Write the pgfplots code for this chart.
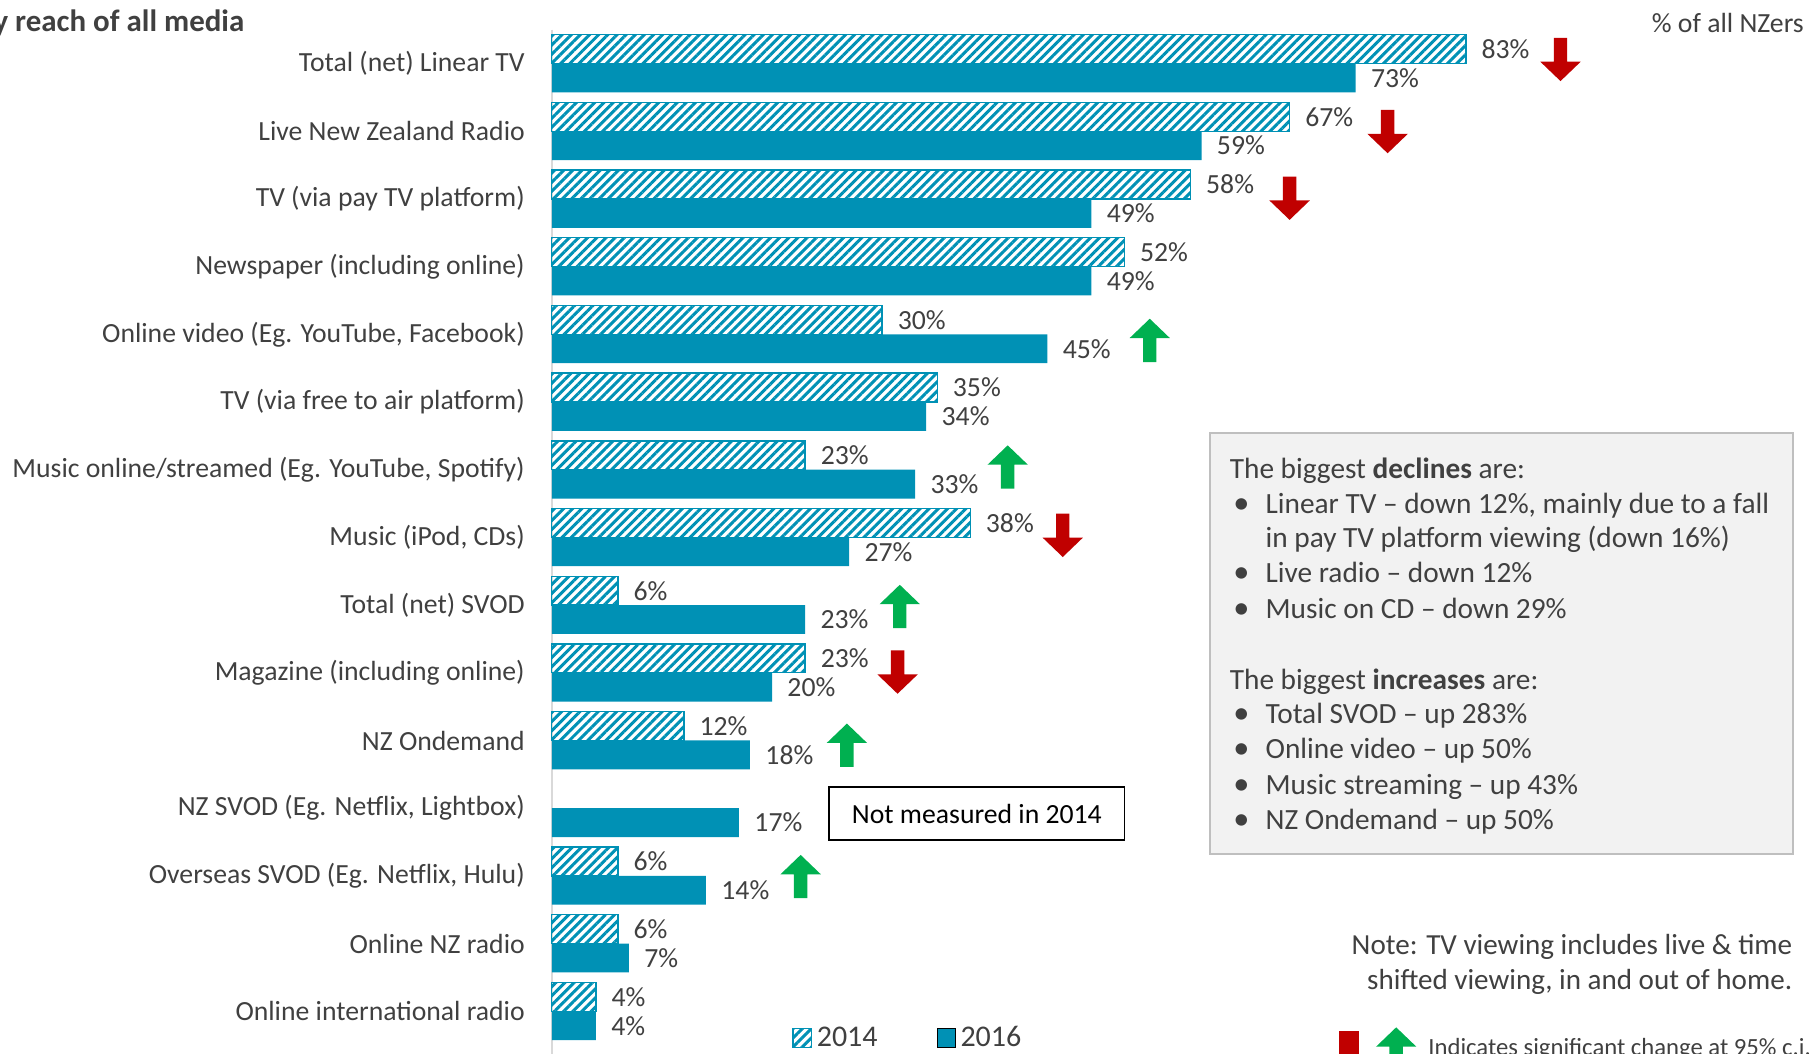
\documentclass[border=0pt]{standalone}
\usepackage{fontspec}
\setmainfont{Carlito}
\usepackage{pgfplots}
\pgfplotsset{compat=1.18}
\usetikzlibrary{patterns.meta}
\definecolor{barblue}{RGB}{0,145,181}
\definecolor{txt}{RGB}{64,64,64}
\definecolor{arrred}{RGB}{192,0,0}
\definecolor{arrgreen}{RGB}{0,176,80}
\definecolor{boxfill}{RGB}{242,242,242}
\definecolor{boxdraw}{RGB}{191,191,191}
\definecolor{axgray}{RGB}{217,217,217}

\pgfdeclareplotmark{downarr}{%
  \pgfpathmoveto{\pgfpoint{-2.9pt}{9.375pt}}%
  \pgfpathlineto{\pgfpoint{2.9pt}{9.375pt}}%
  \pgfpathlineto{\pgfpoint{2.9pt}{-0.975pt}}%
  \pgfpathlineto{\pgfpoint{8.75pt}{-0.975pt}}%
  \pgfpathlineto{\pgfpoint{0pt}{-9.375pt}}%
  \pgfpathlineto{\pgfpoint{-8.75pt}{-0.975pt}}%
  \pgfpathlineto{\pgfpoint{-2.9pt}{-0.975pt}}%
  \pgfpathclose
  \pgfusepathqfill}
\pgfdeclareplotmark{uparr}{%
  \pgfpathmoveto{\pgfpoint{-2.9pt}{-9.375pt}}%
  \pgfpathlineto{\pgfpoint{2.9pt}{-9.375pt}}%
  \pgfpathlineto{\pgfpoint{2.9pt}{0.975pt}}%
  \pgfpathlineto{\pgfpoint{8.75pt}{0.975pt}}%
  \pgfpathlineto{\pgfpoint{0pt}{9.375pt}}%
  \pgfpathlineto{\pgfpoint{-8.75pt}{0.975pt}}%
  \pgfpathlineto{\pgfpoint{-2.9pt}{0.975pt}}%
  \pgfpathclose
  \pgfusepathqfill}

\newcommand{\fs}[1]{\fontsize{#1}{1.2\dimexpr #1pt\relax}\selectfont}

\begin{document}
\begin{tikzpicture}
\useasboundingbox (0,0) rectangle (784pt,456.5pt);
\clip (0,0) rectangle (784pt,456.5pt);
\begin{axis}[
  at={(239pt,3.8pt)}, anchor=south west,
  scale only axis, width=477pt, height=439.85pt,
  xmin=0, xmax=100, ymin=-0.5, ymax=14.5, y dir=reverse,
  axis x line=none, axis y line*=left,
  y axis line style={draw=axgray, line width=0.8pt},
  ytick={0,...,14},
  yticklabels={Total (net) Linear TV, Live New Zealand Radio, TV (via pay TV platform),
    Newspaper (including online), {Online video (Eg. YouTube, Facebook)},
    TV (via free to air platform), {Music online/streamed (Eg. YouTube, Spotify)},
    {Music (iPod, CDs)}, Total (net) SVOD, Magazine (including online), NZ Ondemand,
    {NZ SVOD (Eg. Netflix, Lightbox)}, {Overseas SVOD (Eg. Netflix, Hulu)},
    Online NZ radio, Online international radio},
  major tick length=0pt,
  yticklabel style={font=\fs{12}, text=txt, inner sep=0pt, anchor=east, xshift=-11.5pt},
  clip=false,
  /pgf/number format/assume math mode=true,
  legend columns=2,
  legend style={at={(0.218,0.007)}, anchor=west, draw=none, fill=none,
    font=\fs{13}, text=txt, inner sep=0pt,
    /tikz/every even column/.append style={column sep=23.5pt},
    cells={anchor=west}},
  legend image code/.code={\draw[#1] (0pt,-4pt) rectangle (8pt,4pt);},
]
\addplot[xbar, bar width=12.5pt, bar shift=0pt, draw=barblue, line width=0.6pt,
  pattern={Lines[angle=45,distance=2.8pt,line width=1.3pt]}, pattern color=barblue,
  point meta=x, nodes near coords={\pgfmathprintnumber{\pgfplotspointmeta}\%},
  every node near coord/.append style={font=\fs{12}, text=txt, inner sep=0pt, anchor=west, xshift=6.5pt}]
coordinates {
 (83,-0.213) (67,0.787) (58,1.787) (52,2.787) (30,3.787) (35,4.787) (23,5.787)
 (38,6.787) (6,7.787) (23,8.787) (12,9.787) (6,11.787) (6,12.787) (4,13.787)
};
\addlegendentry{2014}
\addplot[xbar, bar width=12.5pt, bar shift=0pt, draw=none, fill=barblue,
  point meta=x, nodes near coords={\pgfmathprintnumber{\pgfplotspointmeta}\%},
  every node near coord/.append style={font=\fs{12}, text=txt, inner sep=0pt, anchor=west, xshift=6.5pt}]
coordinates {
 (73,0.213) (59,1.213) (49,2.213) (49,3.213) (45,4.213) (34,5.213) (33,6.213)
 (27,7.213) (23,8.213) (20,9.213) (18,10.213) (17,11.213) (14,12.213) (7,13.213) (4,14.213)
};
\addlegendentry{2016}
\addplot[forget plot, only marks, mark=downarr, color=arrred, mark options={fill=arrred}]
coordinates {(91.6,-0.06) (75.9,1.006) (67.0,1.99) (46.4,6.97) (31.4,8.99)};
\addplot[forget plot, only marks, mark=uparr, color=arrgreen, mark options={fill=arrgreen}]
coordinates {(54.3,4.09) (41.4,5.96) (31.6,8.02) (26.8,10.07) (22.6,12.01)};
\draw[axgray, line width=0.8pt] (axis cs:0,14.5) -- (axis cs:0,15);
\node[draw=black, line width=0.6pt, fill=white, minimum width=128pt, minimum height=23pt,
  inner sep=0pt, font=\fs{12}, text=black] at (axis cs:38.6,11.08) {Not measured in 2014};
\end{axis}

% title and unit note
\node[anchor=east, inner sep=0pt, font=\bfseries\fs{13.4}, text=txt] at (106pt,446.5pt) {Monthly reach of all media};
\node[anchor=east, inner sep=0pt, font=\fs{12}, text=txt] at (781.5pt,446.5pt) {\% of all NZers};

% summary box
\draw[fill=boxfill, draw=boxdraw, line width=1pt] (524pt,86.5pt) rectangle (776.5pt,269pt);
\begin{scope}[every node/.style={inner sep=0pt, anchor=base west, font=\fs{12.7}, text=txt}]
\node at (532.5pt,249.25pt) {The biggest \textbf{declines} are:};
\node at (534pt,234.25pt) {\fs{14}•}; \node at (548pt,234.25pt) {Linear TV – down 12\%, mainly due to a fall};
\node at (548pt,219.15pt) {in pay TV platform viewing (down 16\%)};
\node at (534pt,204pt) {\fs{14}•}; \node at (548pt,204pt) {Live radio – down 12\%};
\node at (534pt,188.75pt) {\fs{14}•}; \node at (548pt,188.75pt) {Music on CD – down 29\%};
\node at (532.5pt,158pt) {The biggest \textbf{increases} are:};
\node at (534pt,143pt) {\fs{14}•}; \node at (548pt,143pt) {Total SVOD – up 283\%};
\node at (534pt,127.75pt) {\fs{14}•}; \node at (548pt,127.75pt) {Online video – up 50\%};
\node at (534pt,112.5pt) {\fs{14}•}; \node at (548pt,112.5pt) {Music streaming – up 43\%};
\node at (534pt,97.35pt) {\fs{14}•}; \node at (548pt,97.35pt) {NZ Ondemand – up 50\%};
\end{scope}

% note
\node[anchor=base east, inner sep=0pt, font=\fs{12.6}, text=txt] at (776.5pt,43pt) {Note: TV viewing includes live \& time};
\node[anchor=base east, inner sep=0pt, font=\fs{12.6}, text=txt] at (776.5pt,28pt) {shifted viewing, in and out of home.};

% significance key
\fill[arrred] (580pt,-10pt) rectangle (588.5pt,10pt);
\fill[arrgreen] (601.85pt,-10pt) -- (601.85pt,3.1pt) -- (596pt,3.1pt) -- (604.75pt,11.5pt)
  -- (613.5pt,3.1pt) -- (607.65pt,3.1pt) -- (607.65pt,-10pt) -- cycle;
\node[anchor=base west, inner sep=0pt, font=\fs{10.7}, text=txt] at (618.5pt,-0.5pt) {Indicates significant change at 95\% c.i.};
\end{tikzpicture}
\end{document}
